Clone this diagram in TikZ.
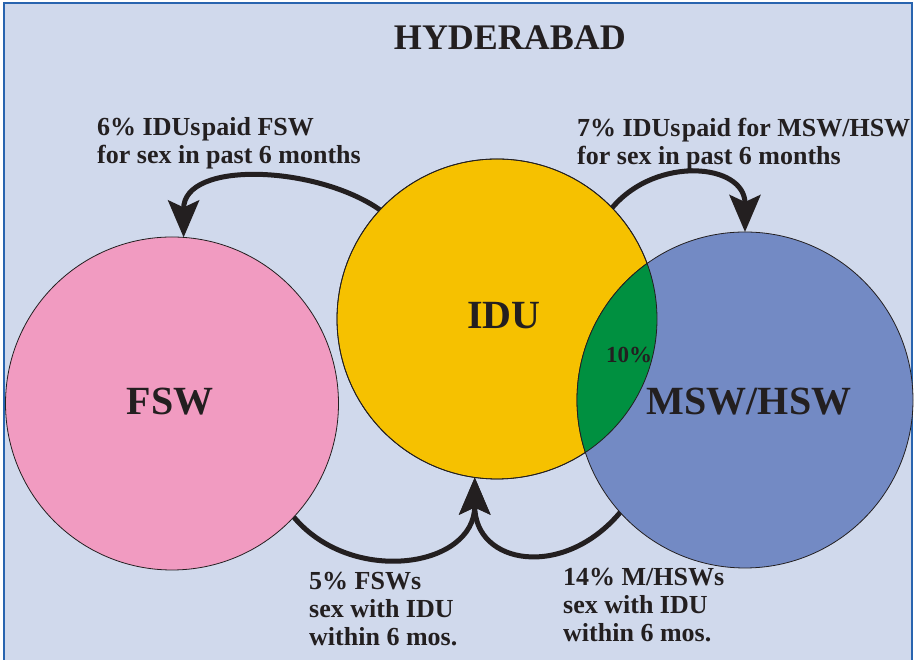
\documentclass[tikz,border=0pt]{standalone}
\usepackage{fontspec}
\setmainfont{Liberation Serif}
\usetikzlibrary{arrows.meta}

\tikzset{
  ring/.style={circle, draw=ink, line width=0.8pt, inner sep=0pt, outer sep=0pt},
  flow/.style={draw=ink, line width=5pt, -{Stealth[length=37pt, width=31pt, inset=7pt]}},
  note/.style={anchor=base west, align=left, inner sep=0pt, text=ink, font=\bfseries\fontsize{26}{28}\selectfont},
  big/.style={anchor=base, text=ink, font=\bfseries\fontsize{40}{44}\selectfont},
}

\begin{document}
\begin{tikzpicture}[x=1pt, y=1pt]
    % Colours
    \definecolor{bg}{RGB}{208,217,236}
    \definecolor{frameblue}{RGB}{40,100,175}
    \definecolor{ink}{RGB}{35,31,32}
    \definecolor{pinkfsw}{RGB}{241,155,193}
    \definecolor{yellowidu}{RGB}{246,193,0}
    \definecolor{bluemsw}{RGB}{115,138,196}
    \definecolor{greenovl}{RGB}{0,144,64}

    % Frame
    \clip (0,0) rectangle (914,660);
    \fill[white] (0,0) rectangle (914,660);
    \draw[line width=2.5pt, draw=frameblue, fill=bg] (4,657) rectangle (912,-10);

    % Title
    \node[anchor=base, text=ink, font=\bfseries\fontsize{36}{40}\selectfont] (title) at (510,610) {HYDERABAD};

    % Circles
    \node[ring, fill=pinkfsw, minimum size=333pt] (fsw) at (172,256.5) {};
    \node[ring, fill=yellowidu, minimum size=320pt] (idu) at (497,341) {};
    \node[ring, fill=bluemsw, minimum size=336pt] (msw) at (745,260) {};

    % Overlap IDU / MSW
    \begin{scope}
        \clip (idu.center) circle[radius=160];
        \fill[greenovl, draw=ink, line width=0.8pt] (msw.center) circle[radius=168];
    \end{scope}
    \draw[ink, line width=0.8pt] (idu.center) circle[radius=160];

    % Circle labels
    \node[big] (fswlabel) at (170,245) {FSW};
    \node[big] (idulabel) at (504,331) {IDU};
    \node[big] (mswlabel) at (749,245) {MSW/HSW};
    \node[anchor=base, text=ink, font=\bfseries\fontsize{23}{26}\selectfont] (pct) at (629,297) {10\%};

    % Arrows
    \draw[flow] (idu.137) to[out=145, in=90] (fsw.86);
    \draw[flow] (idu.44) to[out=50, in=90, looseness=1.3] (msw.90);
    \draw[flow] (fsw.-43) to[out=-50, in=-90, looseness=1.25] (idu.262);
    \draw[flow] (msw.222) to[out=-130, in=-90, looseness=1.5] (idu.262);

    % Notes
    \node[note] (notefsw) at (97,496) {6\% IDUs\kern1.5pt paid FSW\\for sex in past 6 months};
    \node[note] (notemsw) at (577,495) {7\% IDUs\kern1.5pt paid for MSW/HSW\\for sex in past 6 months};
    \node[note] (notefswidu) at (309,14) {5\% FSWs\\sex with IDU\\within 6 mos.};
    \node[note] (notemswidu) at (563,18) {14\% M/HSWs\\sex with IDU\\within 6 mos.};
\end{tikzpicture}
\end{document}
